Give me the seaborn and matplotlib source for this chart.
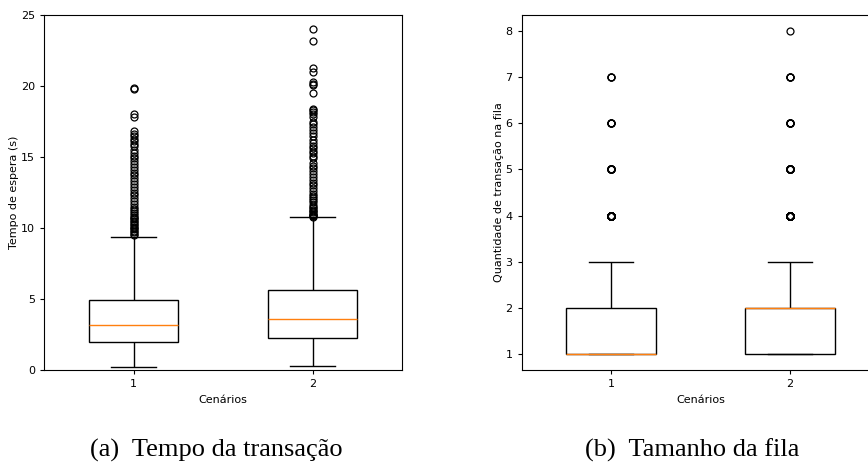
import numpy as np
import pandas as pd
import matplotlib
matplotlib.use("Agg")
import matplotlib.pyplot as plt
import seaborn as sns

# ---------------- data ----------------
scenarios = ["1", "2"]

# (a) Tempo de espera (s): body values with counts + outliers
tempo_body_1 = [0.2, 1.2, 1.95, 2.6, 3.15, 4.1, 4.95, 6.8, 9.4]
tempo_count_1 = [1, 79, 1, 79, 1, 79, 1, 29, 1]
tempo_fliers_1 = [19.85, 19.8, 18.05, 17.8, 16.8, 16.65, 16.5, 16.3, 16.1, 15.9,
                  15.75, 15.5, 15.3, 15.1, 14.9, 14.7, 14.5, 14.3, 14.1, 13.9,
                  13.7, 13.5, 13.3, 13.1, 12.9, 12.7, 12.5, 12.3, 12.1, 11.9,
                  11.7, 11.5, 11.35, 11.2, 11.05, 10.9, 10.8, 10.7, 10.6, 10.5,
                  10.4, 10.3, 10.2, 10.1, 10.0, 9.9, 9.8, 9.7, 9.6, 9.5]

tempo_body_2 = [0.25, 1.4, 2.25, 2.9, 3.6, 4.6, 5.65, 7.8, 10.74]
tempo_count_2 = [1, 79, 1, 79, 1, 79, 1, 25, 1]
tempo_fliers_2 = [24.0, 23.2, 21.25, 21.0, 20.3, 20.15, 20.05, 19.5, 18.4, 18.3,
                  18.15, 18.0, 17.8, 17.5, 17.3, 17.1, 16.9, 16.7, 16.5, 16.2,
                  16.0, 15.8, 15.6, 15.4, 15.25, 15.1, 14.9, 14.6, 14.4, 14.2,
                  14.0, 13.8, 13.6, 13.4, 13.2, 13.0, 12.8, 12.6, 12.4, 12.25,
                  12.1, 11.95, 11.8, 11.65, 11.5, 11.4, 11.3, 11.2, 11.1, 11.0,
                  10.95, 10.9, 10.85, 10.8]

# (b) Quantidade de transação na fila: queue sizes with counts
fila_values = [1, 2, 3, 4, 5, 6, 7, 8]
fila_count_1 = [520, 300, 120, 40, 12, 5, 3, 0]
fila_count_2 = [350, 420, 150, 50, 18, 7, 4, 1]

captions = ["(a)  Tempo da transação", "(b)  Tamanho da fila"]

# ---------------- build tables ----------------
t1 = np.concatenate([np.repeat(tempo_body_1, tempo_count_1), tempo_fliers_1])
t2 = np.concatenate([np.repeat(tempo_body_2, tempo_count_2), tempo_fliers_2])
df_tempo = pd.DataFrame({
    "Cenários": [scenarios[0]] * len(t1) + [scenarios[1]] * len(t2),
    "valor": np.concatenate([t1, t2]),
})
f1 = np.repeat(fila_values, fila_count_1)
f2 = np.repeat(fila_values, fila_count_2)
df_fila = pd.DataFrame({
    "Cenários": [scenarios[0]] * len(f1) + [scenarios[1]] * len(f2),
    "valor": np.concatenate([f1, f2]).astype(float),
})

# ---------------- figure ----------------
plt.rcParams["font.family"] = ["DejaVu Sans"]
fig = plt.figure(figsize=(8.68, 4.66), dpi=100)
W, H = 868, 466
ax1 = fig.add_axes([44 / W, (H - 370) / H, 358 / W, 355 / H])
ax2 = fig.add_axes([521.5 / W, (H - 370) / H, 358 / W, 355 / H])

box_kw = dict(
    x="Cenários", y="valor", order=scenarios, width=0.5,
    color="white", linecolor="black", linewidth=1.0, saturation=1,
    medianprops=dict(color="#ff7f0e", linewidth=1.0),
    flierprops=dict(marker="o", markerfacecolor="none",
                    markeredgecolor="black", markersize=5, markeredgewidth=0.9),
)
sns.boxplot(data=df_tempo, ax=ax1, **box_kw)
sns.boxplot(data=df_fila, ax=ax2, **box_kw)

ax1.set_ylim(0, 25)
ax1.set_ylabel("Tempo de espera (s)", fontsize=8, labelpad=1)
ax2.set_ylabel("Quantidade de transação na fila", fontsize=8, labelpad=1)
for ax in (ax1, ax2):
    ax.set_xlabel("Cenários", fontsize=8)
    ax.set_xlim(-0.5, 1.5)
    ax.tick_params(labelsize=8, length=3, width=0.8, direction="out")
    for s in ax.spines.values():
        s.set_visible(True)
        s.set_color("black")
        s.set_linewidth(0.8)

serif = ["Liberation Serif", "DejaVu Serif"]
fig.text(216 / W, 9 / H, captions[0], ha="center", va="baseline",
         fontsize=19, family=serif)
fig.text(692 / W, 9 / H, captions[1], ha="center", va="baseline",
         fontsize=19, family=serif)

fig.savefig("out.png", dpi=100)
